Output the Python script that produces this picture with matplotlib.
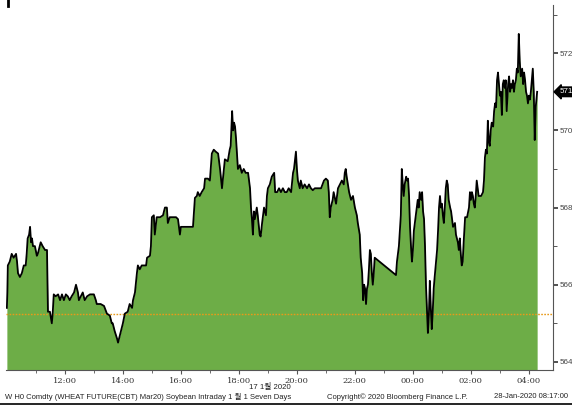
import matplotlib
matplotlib.use("Agg")
import matplotlib.pyplot as plt
from matplotlib.lines import Line2D
import numpy as np

# Minutes after 10:00 (first day) and WHEAT Mar20 prices
minutes = [0, 1, 2, 6, 10, 14, 19, 21, 23, 27, 31, 35, 39, 41, 43, 46, 48, 50, 52, 54,
           58, 62, 64, 68, 70, 74, 79, 83, 85, 89, 93, 95, 97, 101, 106, 110, 114, 118, 122, 126,
           130, 134, 139, 143, 147, 149, 153, 157, 161, 166, 172, 180, 184, 186, 194, 201, 207, 213, 217, 219,
           223, 228, 230, 232, 236, 240, 244, 250, 254, 259, 261, 265, 269, 271, 275, 279, 288, 290, 296, 298,
           300, 304, 306, 310, 317, 323, 327, 331, 333, 337, 341, 350, 354, 358, 360, 368, 379, 385, 389, 393,
           395, 399, 403, 408, 410, 416, 420, 424, 428, 432, 437, 441, 445, 449, 451, 457, 461, 463, 466, 468,
           470, 472, 474, 478, 482, 486, 490, 494, 499, 503, 505, 507, 509, 511, 513, 517, 519, 523, 525, 528,
           532, 536, 538, 540, 544, 548, 553, 555, 559, 563, 567, 571, 575, 579, 583, 588, 592, 594, 598, 600,
           602, 606, 608, 612, 616, 621, 625, 629, 633, 637, 643, 650, 656, 660, 664, 666, 668, 670, 674, 676,
           681, 685, 689, 693, 697, 699, 701, 703, 708, 712, 716, 720, 724, 726, 730, 732, 735, 737, 739, 741,
           743, 745, 747, 749, 751, 753, 755, 757, 759, 761, 805, 807, 811, 813, 815, 817, 819, 821, 823, 826,
           828, 830, 832, 834, 836, 838, 840, 842, 846, 850, 852, 854, 857, 859, 861, 863, 865, 867, 869, 871,
           873, 875, 877, 879, 881, 883, 885, 890, 892, 894, 896, 898, 900, 902, 904, 906, 908, 910, 912, 914,
           917, 919, 921, 923, 927, 929, 933, 935, 937, 939, 941, 943, 945, 948, 952, 956, 958, 960, 962, 964,
           966, 968, 970, 972, 974, 976, 981, 985, 987, 989, 991, 993, 995, 997, 999, 1001, 1003, 1006, 1008, 1010,
           1012, 1014, 1016, 1018, 1020, 1022, 1024, 1026, 1028, 1030, 1032, 1034, 1037, 1039, 1041, 1043, 1045, 1047, 1049, 1051,
           1053, 1055, 1057, 1059, 1061, 1063, 1066, 1068, 1070, 1072, 1074, 1076, 1078, 1080, 1082, 1084, 1086, 1088, 1090, 1092,
           1094, 1097]

prices = [565.4, 565.8, 566.5, 566.6, 566.8, 566.7, 566.8, 566.6, 566.3, 566.2, 566.3, 566.5, 566.5, 566.8, 567.2, 567.3, 567.5, 567.1, 567.2, 567.0,
          567.0, 566.75, 566.8, 567.0, 567.1, 567.0, 566.9, 566.9, 565.3, 565.3, 565.0, 565.3, 565.75, 565.7, 565.75, 565.6, 565.75, 565.6, 565.75, 565.7,
          565.6, 565.7, 565.8, 566.0, 565.8, 565.6, 565.7, 565.8, 565.6, 565.7, 565.75, 565.75, 565.6, 565.5, 565.5, 565.45, 565.25, 565.2, 565.0, 565.0,
          564.8, 564.6, 564.5, 564.6, 564.8, 565.0, 565.25, 565.3, 565.5, 565.4, 565.6, 565.8, 566.3, 566.5, 566.4, 566.5, 566.5, 566.7, 566.75, 567.0,
          567.75, 567.8, 567.3, 567.75, 567.75, 567.8, 568.0, 568.0, 567.6, 567.75, 567.75, 567.75, 567.7, 567.3, 567.5, 567.5, 567.5, 567.5, 568.25, 568.3,
          568.4, 568.3, 568.4, 568.5, 568.75, 568.75, 568.7, 569.4, 569.5, 569.45, 569.4, 569.0, 568.5, 569.0, 569.25, 569.2, 569.5, 569.6, 570.5, 570.0,
          570.2, 570.1, 569.8, 569.0, 569.1, 568.9, 569.0, 568.9, 568.9, 568.5, 568.0, 567.7, 567.3, 567.9, 567.7, 568.0, 567.8, 567.3, 567.25, 567.6,
          568.0, 567.8, 568.3, 568.5, 568.6, 568.8, 568.9, 568.4, 568.4, 568.5, 568.4, 568.5, 568.4, 568.4, 568.5, 568.4, 568.9, 569.0, 569.45, 569.0,
          568.7, 568.5, 568.7, 568.5, 568.6, 568.5, 568.6, 568.5, 568.45, 568.5, 568.5, 568.5, 568.7, 568.75, 568.7, 568.4, 567.75, 568.0, 568.2, 568.4,
          568.1, 568.5, 568.6, 568.7, 568.6, 568.9, 569.0, 568.8, 568.4, 568.2, 568.3, 568.0, 567.8, 567.6, 567.3, 566.7, 566.3, 565.6, 566.0, 565.9,
          565.5, 565.9, 566.0, 566.4, 566.9, 566.8, 566.3, 566.0, 566.3, 566.7, 566.25, 566.6, 567.0, 567.4, 567.8, 569.0, 568.6, 568.3, 568.6, 568.8,
          568.7, 568.75, 568.3, 567.5, 567.0, 566.6, 566.9, 567.4, 567.8, 568.2, 568.0, 568.4, 568.2, 568.4, 567.9, 567.7, 567.0, 566.0, 565.4, 564.75,
          565.2, 566.1, 565.4, 564.85, 565.3, 565.9, 566.2, 566.9, 567.4, 568.0, 568.3, 568.0, 568.1, 567.8, 567.6, 568.0, 568.5, 568.7, 568.6, 568.2,
          568.0, 567.9, 567.7, 567.5, 567.6, 567.3, 567.1, 566.9, 567.2, 566.8, 566.5, 566.6, 567.1, 567.75, 567.75, 568.0, 568.4, 568.2, 568.4, 568.3,
          568.1, 568.0, 568.3, 568.7, 568.5, 568.3, 568.3, 568.4, 568.7, 569.3, 569.5, 569.4, 570.25, 569.7, 569.6, 570.0, 570.2, 570.1, 570.5, 570.7,
          570.6, 571.3, 571.5, 571.2, 570.9, 571.0, 570.4, 571.2, 571.3, 571.1, 571.3, 570.5, 571.2, 571.4, 571.0, 571.2, 571.1, 571.3, 571.0, 571.2,
          571.3, 571.6, 571.5, 572.5, 571.8, 571.4, 571.6, 571.2, 571.5, 571.3, 571.0, 570.9, 570.7, 570.9, 570.8, 571.0, 571.3, 571.6, 571.0, 569.75,
          570.6, 571.0]

prev_close = 565.25
last_price = 571
tick_hours = [12, 14, 16, 18, 20, 22, 24, 26, 28]
tick_labels = ["12:00", "14:00", "16:00", "18:00", "20:00", "22:00", "00:00", "02:00", "04:00"]
y_ticks = [564, 566, 568, 570, 572]

t = 10 + np.array(minutes) / 60.0
p = np.array(prices)

W, H = 572, 405
fig = plt.figure(figsize=(W / 100, H / 100), dpi=100)
ax = fig.add_axes([6 / W, 1 - 370 / H, (553 - 6) / W, 365 / H])

ymin, ymax = 563.79, 573.25
ax.fill_between(t, p, ymin, color="#6DAD47", lw=0, zorder=1)
ax.plot(t, p, color="black", lw=1.3, zorder=3)
ax.axhline(prev_close, color="#E89A1A", lw=1.0, ls=(0, (1.2, 1.0)), zorder=2)

ax.set_xlim(9.97, 28.83)
ax.set_ylim(ymin, ymax)

for s in ["left", "top"]:
    ax.spines[s].set_visible(False)
ax.spines["right"].set_color("#555555")
ax.spines["right"].set_linewidth(0.8)
ax.spines["bottom"].set_color("#555555")
ax.spines["bottom"].set_linewidth(0.8)

ax.yaxis.tick_right()
ax.set_yticks(y_ticks)
ax.set_yticklabels([str(v) for v in y_ticks], fontfamily="Liberation Sans")
ax.set_yticks([565, 567, 569, 571, 573], minor=True)
ax.tick_params(axis="y", which="major", direction="out", length=3.5, width=1.2,
               colors="#333333", labelsize=5.8, pad=1, labelcolor="#444444")
ax.tick_params(axis="y", which="minor", direction="out", length=3, width=0.7, colors="#555555")

ax.set_xticks(tick_hours)
ax.set_xticklabels(tick_labels, fontfamily="DejaVu Serif")
ax.set_xticks(np.arange(11, 29, 2), minor=True)
ax.tick_params(axis="x", which="major", direction="out", length=3, width=0.8,
               colors="#555555", labelsize=6, pad=2, labelcolor="#333333")
ax.tick_params(axis="x", which="minor", direction="out", length=2, width=0.6, colors="#555555")

ax.annotate(str(last_price), xy=(1, last_price), xycoords=("axes fraction", "data"),
            xytext=(4.5, 0), textcoords="offset points", color="white", fontsize=5.8,
            family="Liberation Sans", va="center", ha="left",
            bbox=dict(boxstyle="larrow,pad=0.16", fc="black", ec="black"))

fam = ["Liberation Sans", "Noto Sans CJK KR"]
fig.text(270 / W, 1 - 387 / H, "17 1월 2020", ha="center", va="center",
         fontsize=5.6, family=fam, color="#222222")
fig.text(5 / W, 1 - 397 / H,
         "W H0 Comdty (WHEAT FUTURE(CBT) Mar20) Soybean Intraday 1 월 1 Seven Days",
         ha="left", va="center", fontsize=5.5, family=fam, color="#222222")
fig.text(327 / W, 1 - 397 / H, "Copyright© 2020 Bloomberg Finance L.P.",
         ha="left", va="center", fontsize=5.5, family=fam, color="#222222")
fig.text(568 / W, 1 - 397 / H, "28-Jan-2020 08:17:00",
         ha="right", va="center", fontsize=5.5, family=fam, color="#222222")

fig.add_artist(Line2D([0, 1], [1 - 403.5 / H, 1 - 403.5 / H], color="black", lw=1.2,
                      transform=fig.transFigure))
fig.add_artist(Line2D([8 / W, 8 / W], [1, 1 - 6 / H], color="black", lw=2.0,
                      transform=fig.transFigure))

fig.savefig("out.png", dpi=100)
